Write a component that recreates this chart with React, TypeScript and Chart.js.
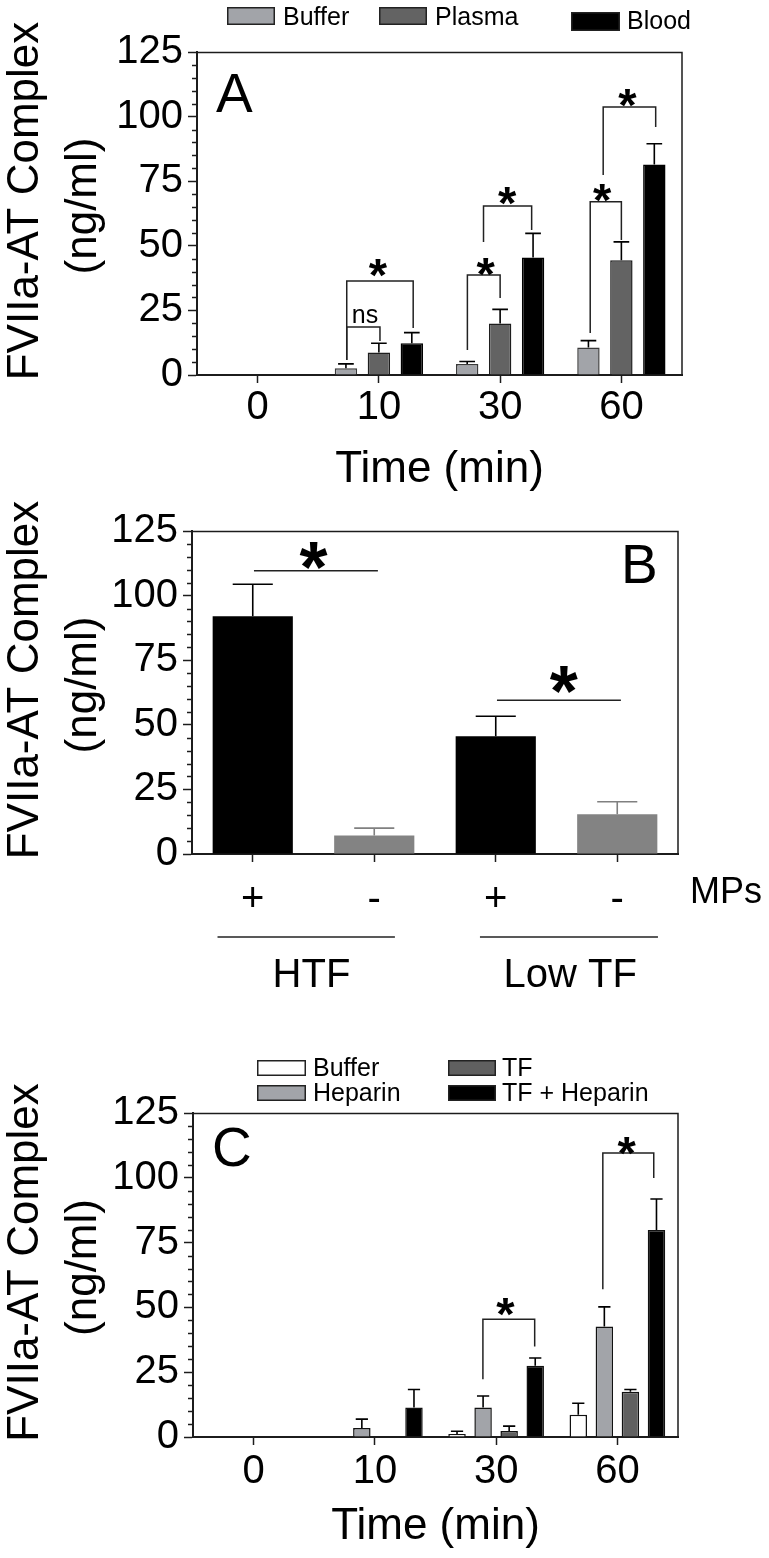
import React, { useEffect, useRef } from 'react';
import { Chart, registerables } from 'chart.js';

Chart.register(...registerables);

const FONT = '"Liberation Sans", Arial, Helvetica, sans-serif';
const AX = '#1c1c1c';

// ---------- shared axis ----------
const yTitleLines = ['FVIIa-AT Complex', '(ng/ml)'];
const yMin = 0;
const yMax = 125;
const yMajorStep = 25;
const yMinorStep = 5;

// ---------- Panel A ----------
const timeLabels = ['0', '10', '30', '60'];
const aSeriesNames = ['Buffer', 'Plasma', 'Blood'];
const aBuffer = [0, 2.6, 4.3, 10.6];
const aBufferSd = [0, 1.7, 0.9, 2.7];
const aPlasma = [0, 8.7, 19.9, 44.4];
const aPlasmaSd = [0, 3.6, 5.5, 7.1];
const aBlood = [0, 12.3, 45.5, 81.5];
const aBloodSd = [0, 4.1, 9.3, 8.0];
// brackets: x in category units, y = bar height, y1/y2 = leg ends
const aBrackets = [
  { x1: 0.735, x2: 1.009, y: 18.6, y1: 5.8, y2: 13.2 },
  { x1: 0.735, x2: 1.283, y: 36.4, y1: 5.8, y2: 18.2 },
  { x1: 1.73, x2: 2.0, y: 38.7, y1: 9.7, y2: 29.8 },
  { x1: 1.863, x2: 2.26, y: 65.4, y1: 51.5, y2: 56.1 },
  { x1: 2.743, x2: 3.0, y: 67.0, y1: 16.3, y2: 52.2 },
  { x1: 2.85, x2: 3.283, y: 103.7, y1: 77.4, y2: 96.0 },
];
const aStars = [
  { x: 0.995, y: 41.6 },
  { x: 1.883, y: 41.8 },
  { x: 2.06, y: 69.3 },
  { x: 2.845, y: 70.4 },
  { x: 3.053, y: 107.2 },
];
const aNotes = [{ x: 0.888, y: 22.8, text: 'ns' }];

// ---------- Panel B ----------
const bLabels = ['+', '-', '+', '-'];
const bGroups = ['HTF', 'Low TF'];
const bGroupSpans = [
  [-0.29, 1.17],
  [1.87, 3.335],
];
const bGroupCenters = [0.49, 2.62];
const bFactorName = 'MPs';
const bValues = [92.0, 7.2, 45.6, 15.4];
const bSd = [12.4, 2.8, 7.7, 4.8];
const bLines = [
  { x1: 0.01, x2: 1.03, y: 109.6 },
  { x1: 2.01, x2: 3.03, y: 59.5 },
];
const bStars = [
  { x: 0.5, y: 115.7 },
  { x: 2.56, y: 67.7 },
];

// ---------- Panel C ----------
const cSeriesNames = ['Buffer', 'Heparin', 'TF', 'TF + Heparin'];
const cBuffer = [0, 0, 1.2, 8.6];
const cBufferSd = [0, 0, 1.0, 4.4];
const cHeparin = [0, 3.5, 11.4, 42.6];
const cHeparinSd = [0, 3.4, 4.4, 7.6];
const cTF = [0, 0, 2.3, 17.5];
const cTFSd = [0, 0, 1.9, 0.8];
const cTFHep = [0, 11.4, 27.5, 79.9];
const cTFHepSd = [0, 6.9, 3.0, 11.9];
const cBrackets = [
  { x1: 1.891, x2: 2.318, y: 45.4, y1: 22.3, y2: 34.9 },
  { x1: 2.88, x2: 3.3, y: 109.6, y1: 57.0, y2: 99.9 },
];
const cStars = [
  { x: 2.08, y: 50.2 },
  { x: 3.08, y: 112.3 },
];

// ---------- drawing helpers ----------
function inkCenterText(ctx: CanvasRenderingContext2D, text: string, cx: number, cy: number, font: string) {
  ctx.font = font;
  ctx.textAlign = 'left';
  ctx.textBaseline = 'alphabetic';
  const m = ctx.measureText(text);
  const x = cx - (m.actualBoundingBoxRight - m.actualBoundingBoxLeft) / 2;
  const y = cy - (m.actualBoundingBoxDescent - m.actualBoundingBoxAscent) / 2;
  ctx.fillText(text, x, y);
}

function inkLeftText(ctx: CanvasRenderingContext2D, text: string, left: number, cy: number, font: string) {
  ctx.font = font;
  ctx.textAlign = 'left';
  ctx.textBaseline = 'alphabetic';
  const m = ctx.measureText(text);
  const y = cy - (m.actualBoundingBoxDescent - m.actualBoundingBoxAscent) / 2;
  ctx.fillText(text, left + m.actualBoundingBoxLeft, y);
}

const decorPlugin = {
  id: 'decor',
  afterDraw(chart: any, _args: any, o: any) {
    const ctx: CanvasRenderingContext2D = chart.ctx;
    const { left, right, top, bottom } = chart.chartArea;
    const xs = chart.scales.x;
    const ys = chart.scales.y;
    const px = (v: number) => xs.getPixelForValue(v);
    const py = (v: number) => ys.getPixelForValue(v);
    ctx.save();

    // frame top + right
    ctx.strokeStyle = AX;
    ctx.lineWidth = 1.5;
    ctx.beginPath();
    ctx.moveTo(left, top + 0.5);
    ctx.lineTo(right, top + 0.5);
    ctx.lineTo(right, bottom);
    ctx.stroke();

    // minor y ticks
    ctx.lineWidth = 1.5;
    for (let v = yMin; v <= yMax; v += yMinorStep) {
      if (v % yMajorStep === 0) continue;
      const y = Math.round(py(v)) + 0.5;
      ctx.beginPath();
      ctx.moveTo(left - 5, y);
      ctx.lineTo(left, y);
      ctx.stroke();
    }

    // error bars
    (o.errors || []).forEach((sdArr: number[], i: number) => {
      const meta = chart.getDatasetMeta(i);
      const ds = chart.data.datasets[i];
      meta.data.forEach((bar: any, j: number) => {
        const sd = sdArr[j];
        if (!sd) return;
        const val = ds.data[j] as number;
        const yTop = py(val + sd);
        const col = Array.isArray(o.errColor) ? o.errColor[j] : o.errColor;
        ctx.strokeStyle = col;
        ctx.lineWidth = o.errWidth || 1.6;
        const cw = bar.width * o.capRatio;
        ctx.beginPath();
        ctx.moveTo(bar.x, bar.y);
        ctx.lineTo(bar.x, yTop);
        ctx.moveTo(bar.x - cw / 2, yTop);
        ctx.lineTo(bar.x + cw / 2, yTop);
        ctx.stroke();
      });
    });

    // brackets
    ctx.strokeStyle = '#222';
    ctx.lineWidth = 1.5;
    (o.brackets || []).forEach((b: any) => {
      ctx.beginPath();
      ctx.moveTo(px(b.x1), py(b.y1));
      ctx.lineTo(px(b.x1), py(b.y));
      ctx.lineTo(px(b.x2), py(b.y));
      ctx.lineTo(px(b.x2), py(b.y2));
      ctx.stroke();
    });
    (o.lines || []).forEach((b: any) => {
      ctx.beginPath();
      ctx.moveTo(px(b.x1), py(b.y));
      ctx.lineTo(px(b.x2), py(b.y));
      ctx.stroke();
    });

    ctx.fillStyle = '#000';
    (o.stars || []).forEach((s: any) => {
      inkCenterText(ctx, '*', px(s.x), py(s.y), `bold ${o.starSize}px ${FONT}`);
    });
    (o.notes || []).forEach((n: any) => {
      inkCenterText(ctx, n.text, px(n.x), py(n.y), `25px ${FONT}`);
    });

    // panel letter
    if (o.letter) {
      ctx.font = `55px ${FONT}`;
      ctx.textAlign = 'left';
      ctx.textBaseline = 'alphabetic';
      const m = ctx.measureText(o.letter.text);
      ctx.fillText(o.letter.text, o.letter.x + m.actualBoundingBoxLeft, o.letter.baseline);
    }

    // legend
    (o.legend || []).forEach((it: any, i: number) => {
      const ds = chart.data.datasets[i];
      ctx.fillStyle = ds.backgroundColor;
      ctx.fillRect(it.x, it.y, it.w, it.h);
      ctx.strokeStyle = '#222';
      ctx.lineWidth = 1.5;
      ctx.strokeRect(it.x + 0.75, it.y + 0.75, it.w - 1.5, it.h - 1.5);
      ctx.fillStyle = '#000';
      ctx.font = `25px ${FONT}`;
      ctx.textAlign = 'left';
      ctx.textBaseline = 'alphabetic';
      ctx.fillText(ds.label, it.tx, it.baseline);
    });

    // y title
    if (o.yTitle) {
      ctx.fillStyle = '#000';
      ctx.font = `44px ${FONT}`;
      ctx.textAlign = 'center';
      ctx.textBaseline = 'middle';
      yTitleLines.forEach((t, i) => {
        ctx.save();
        ctx.translate(o.yTitle.xs[i], o.yTitle.cy + i * 5);
        ctx.rotate(-Math.PI / 2);
        ctx.fillText(t, 0, 0);
        ctx.restore();
      });
    }

    // extra panel-B group labels
    if (o.groups) {
      ctx.strokeStyle = '#222';
      ctx.lineWidth = 1.5;
      o.groups.spans.forEach((sp: number[]) => {
        ctx.beginPath();
        ctx.moveTo(px(sp[0]), o.groups.lineY);
        ctx.lineTo(px(sp[1]), o.groups.lineY);
        ctx.stroke();
      });
      ctx.fillStyle = '#000';
      o.groups.labels.forEach((t: string, i: number) => {
        inkCenterText(ctx, t, px(o.groups.centers[i]), o.groups.labelY, `40px ${FONT}`);
      });
      inkLeftText(ctx, o.groups.factor, o.groups.factorX, o.groups.factorY, `36px ${FONT}`);
    }

    ctx.restore();
  },
};

function baseOptions(p: any) {
  return {
    responsive: false,
    animation: false as const,
    events: [] as any[],
    layout: { padding: { top: p.top, right: 769 - p.right, left: 0, bottom: 0 } },
    plugins: {
      legend: { display: false },
      tooltip: { enabled: false },
      decor: p.decor,
    },
    scales: {
      x: {
        type: 'category' as const,
        offset: true,
        grid: { display: true, drawOnChartArea: false, offset: false, tickLength: 8, tickColor: AX, tickWidth: 1.5 },
        border: { display: true, color: AX, width: 2 },
        ticks: { color: '#000', font: { family: FONT, size: 40, lineHeight: 1.2 }, padding: p.xTickPad, maxRotation: 0, autoSkip: false },
        title: {
          display: !!p.xTitle,
          text: p.xTitle || '',
          color: '#000',
          font: { family: FONT, size: 44, lineHeight: 1.2 },
          padding: { top: 0, bottom: p.xTitlePad || 0 },
        },
        afterFit: (s: any) => {
          s.height = p.height - p.bottom;
        },
      },
      y: {
        min: yMin,
        max: yMax,
        grid: { display: true, drawOnChartArea: false, tickLength: 9, tickColor: AX, tickWidth: 1.5 },
        border: { display: true, color: AX, width: 2 },
        ticks: { stepSize: yMajorStep, color: '#000', font: { family: FONT, size: 40, lineHeight: 1.2 }, padding: 5 },
        afterFit: (s: any) => {
          s.width = p.left;
        },
      },
    },
  };
}

function configA(): any {
  const data = [aBuffer, aPlasma, aBlood];
  const fills = ['#a2a4a9', '#636363', '#000000'];
  const strokes = ['#3a3a3a', '#1e1e1e', '#000000'];
  return {
    type: 'bar',
    data: {
      labels: timeLabels,
      datasets: aSeriesNames.map((n, i) => ({
        label: n,
        data: data[i],
        backgroundColor: fills[i],
        borderColor: strokes[i],
        borderWidth: 1.5,
        categoryPercentage: 0.815,
        barPercentage: 0.68,
      })),
    },
    options: baseOptions({
      height: 500,
      left: 197,
      right: 682,
      top: 52,
      bottom: 375,
      xTickPad: 1,
      xTitle: 'Time (min)',
      xTitlePad: 3.6,
      decor: {
        errors: [aBufferSd, aPlasmaSd, aBloodSd],
        errColor: '#000',
        capRatio: 0.7,
        brackets: aBrackets,
        stars: aStars,
        starSize: 47,
        notes: aNotes,
        letter: { text: 'A', x: 216, baseline: 112 },
        legend: [
          { x: 227, y: 7, w: 48, h: 18, tx: 283, baseline: 25 },
          { x: 379, y: 7, w: 48, h: 18, tx: 435, baseline: 25 },
          { x: 571, y: 12, w: 49, h: 19, tx: 627, baseline: 29 },
        ],
        yTitle: { xs: [26, 84], cy: 201 },
      },
    }),
    plugins: [decorPlugin],
  };
}

function configB(): any {
  const fills = ['#000000', '#838383', '#000000', '#838383'];
  return {
    type: 'bar',
    data: {
      labels: bLabels,
      datasets: [
        {
          label: 'FVIIa-AT',
          data: bValues,
          backgroundColor: fills,
          borderWidth: 0,
          categoryPercentage: 1,
          barPercentage: 0.66,
        },
      ],
    },
    options: baseOptions({
      height: 530,
      left: 192,
      right: 678,
      top: 31,
      bottom: 354,
      xTickPad: 14,
      decor: {
        errors: [bSd],
        errColor: ['#000', '#808080', '#000', '#808080'],
        capRatio: 0.5,
        lines: bLines,
        stars: bStars,
        starSize: 72,
        letter: { text: 'B', x: 625, baseline: 83 },
        yTitle: { xs: [26, 84], cy: 180 },
        groups: {
          spans: bGroupSpans,
          lineY: 437,
          labels: bGroups,
          centers: bGroupCenters,
          labelY: 473,
          factor: bFactorName,
          factorX: 692,
          factorY: 390,
        },
      },
    }),
    plugins: [decorPlugin],
  };
}

function configC(): any {
  const data = [cBuffer, cHeparin, cTF, cTFHep];
  const fills = ['#ffffff', '#a2a4a9', '#606060', '#000000'];
  return {
    type: 'bar',
    data: {
      labels: timeLabels,
      datasets: cSeriesNames.map((n, i) => ({
        label: n,
        data: data[i],
        backgroundColor: fills[i],
        borderColor: '#111',
        borderWidth: 1.5,
        categoryPercentage: 0.86,
        barPercentage: 0.67,
      })),
    },
    options: baseOptions({
      height: 528,
      left: 193,
      right: 678,
      top: 83,
      bottom: 407,
      xTickPad: 2.5,
      xTitle: 'Time (min)',
      xTitlePad: 4.6,
      decor: {
        errors: [cBufferSd, cHeparinSd, cTFSd, cTFHepSd],
        errColor: '#000',
        capRatio: 0.7,
        brackets: cBrackets,
        stars: cStars,
        starSize: 47,
        letter: { text: 'C', x: 214, baseline: 136 },
        legend: [
          { x: 257, y: 30, w: 49, h: 16, tx: 313, baseline: 46 },
          { x: 257, y: 55, w: 49, h: 16, tx: 313, baseline: 71 },
          { x: 448, y: 30, w: 48, h: 16, tx: 502, baseline: 46 },
          { x: 448, y: 55, w: 48, h: 16, tx: 502, baseline: 71 },
        ],
        yTitle: { xs: [26, 84], cy: 232.5 },
      },
    }),
    plugins: [decorPlugin],
  };
}

function Panel({ make, top, height }: { make: () => any; top: number; height: number }) {
  const ref = useRef<HTMLCanvasElement | null>(null);
  useEffect(() => {
    if (!ref.current) return;
    const chart = new Chart(ref.current, make());
    return () => chart.destroy();
  }, [make]);
  return (
    <canvas
      ref={ref}
      width={769}
      height={height}
      style={{ position: 'absolute', left: 0, top, width: 769, height, display: 'block' }}
    />
  );
}

export default function App() {
  return (
    <div style={{ position: 'absolute', left: 0, top: 0, width: 769, height: 1558, background: '#fff', overflow: 'hidden' }}>
      <Panel make={configA} top={0} height={500} />
      <Panel make={configB} top={500} height={530} />
      <Panel make={configC} top={1030} height={528} />
    </div>
  );
}
